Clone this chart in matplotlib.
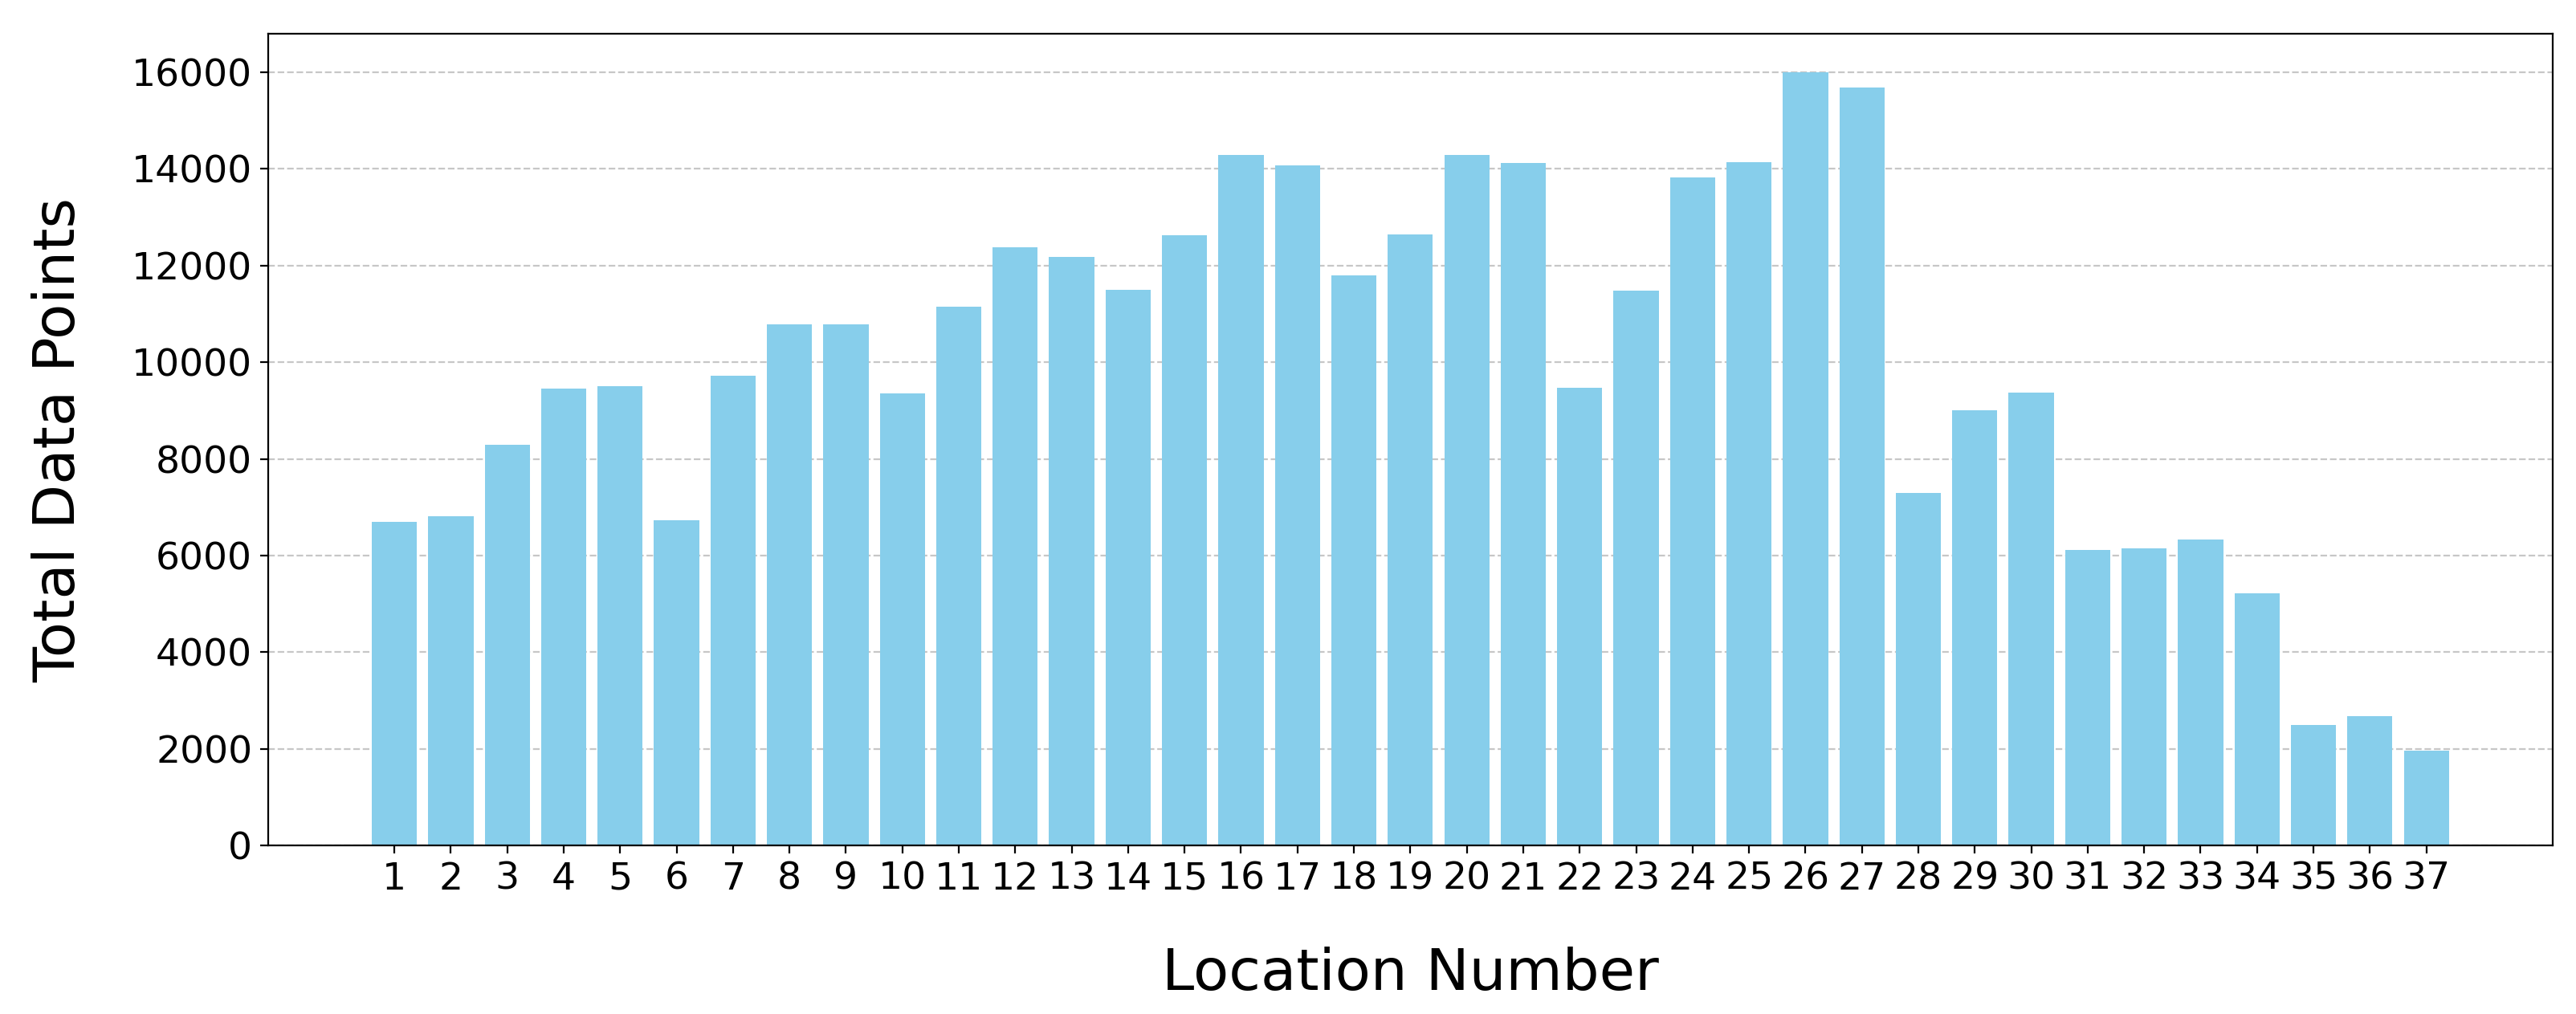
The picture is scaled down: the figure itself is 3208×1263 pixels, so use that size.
import matplotlib
matplotlib.use("Agg")
import matplotlib.pyplot as plt

# location numbers and their total data point counts
locations = list(range(1, 38))
totals = [6700, 6820, 8290, 9460, 9500, 6730, 9720, 10790, 10790, 9360,
          11150, 12380, 12180, 11500, 12630, 14290, 14070, 11800, 12640, 14290,
          14120, 9470, 11480, 13820, 14130, 16000, 15690, 7300, 9010, 9370,
          6120, 6150, 6340, 5220, 2500, 2680, 1960]

fig, ax = plt.subplots(figsize=(16.04, 6.315), dpi=200)
fig.subplots_adjust(left=0.104, right=0.991, top=0.967, bottom=0.166)

ax.bar(locations, totals, color='skyblue', zorder=2)
ax.set_xticks(locations)
ax.tick_params(axis='both', labelsize=17)

ax.set_xlabel('Location Number', fontsize=26, labelpad=22)
ax.set_ylabel('Total Data Points', fontsize=26, labelpad=20)
ax.grid(axis='y', linestyle='--', alpha=0.7, zorder=0)

plt.savefig('out.png')
